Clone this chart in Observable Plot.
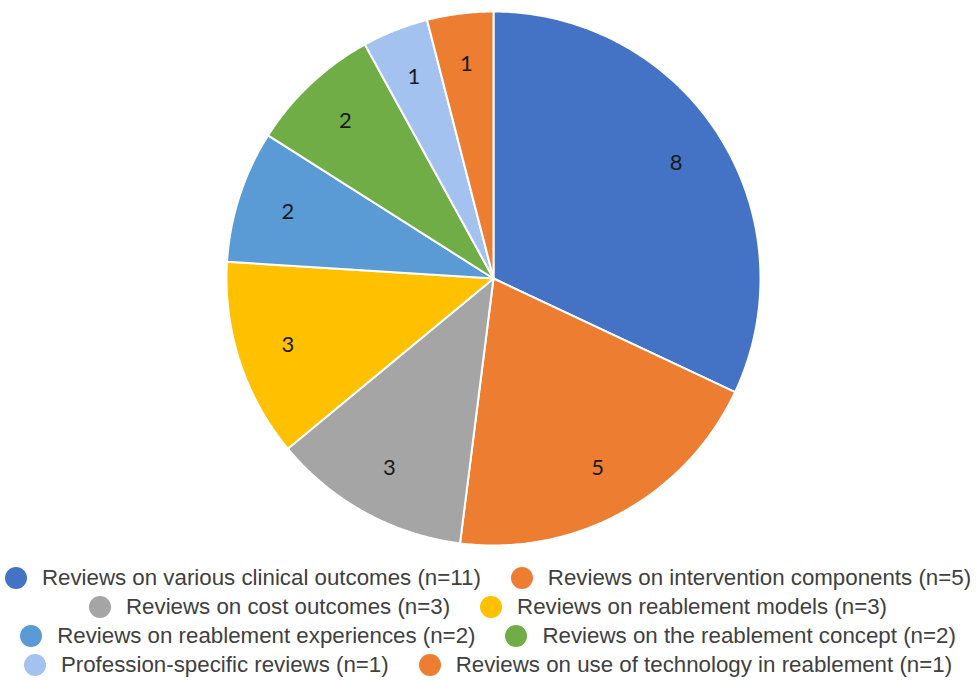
<!DOCTYPE html>
<html><head><meta charset="utf-8">
<script src="https://cdn.jsdelivr.net/npm/d3@7"></script>
<script src="https://cdn.jsdelivr.net/npm/@observablehq/plot@0.6"></script>
<style>
body{margin:0;background:#fff;}
#legend{font-family:"Liberation Sans",Arial,sans-serif;font-size:22.3px;color:#404040;padding-top:3px;}
.row{display:flex;justify-content:center;align-items:center;height:29px;white-space:nowrap;}
.item{display:flex;align-items:center;margin:0 15px;}
.sw{width:22px;height:22px;border-radius:50%;margin-right:15px;flex:none;}
</style></head><body><div id="chart"></div><div id="legend"></div>
<script>
const categories = [
  "Reviews on various clinical outcomes",
  "Reviews on intervention components",
  "Reviews on cost outcomes",
  "Reviews on reablement models",
  "Reviews on reablement experiences",
  "Reviews on the reablement concept",
  "Profession-specific reviews",
  "Reviews on use of technology in reablement"
];
const sliceValues = [8, 5, 3, 3, 2, 2, 1, 1];
const legendCounts = [11, 5, 3, 3, 2, 2, 1, 1];
const colors = ["#4472C4", "#ED7D31", "#A5A5A5", "#FFC000", "#5B9BD5", "#70AD47", "#A4C2F0", "#ED7D31"];
const legendRows = [[0, 1], [2, 3], [4, 5], [6, 7]];

const W = 976, H = 560, cx = 493, cy = 278, R = 267;
const arcs = d3.pie().sort(null).value(d => d.value)(categories.map((c, i) => ({name: c, value: sliceValues[i]})));
const poly = [];
const labels = [];
arcs.forEach(a => {
  const name = a.data.name;
  poly.push({name, x: 0, y: 0});
  const n = Math.max(2, Math.ceil((a.endAngle - a.startAngle) / (Math.PI / 360)));
  for (let k = 0; k <= n; k++) {
    const t = a.startAngle + (a.endAngle - a.startAngle) * k / n;
    poly.push({name, x: Math.sin(t), y: Math.cos(t)});
  }
  const m = (a.startAngle + a.endAngle) / 2;
  labels.push({name, x: 0.81 * Math.sin(m), y: 0.81 * Math.cos(m), text: String(a.data.value)});
});

const chart = Plot.plot({
  width: W, height: H,
  marginTop: 0, marginBottom: 0, marginLeft: 0, marginRight: 0,
  x: {domain: [-cx / R, (W - cx) / R], axis: null},
  y: {domain: [-(H - cy) / R, cy / R], axis: null},
  color: {domain: categories, range: colors},
  style: {background: "#fff"},
  marks: [
    Plot.line(poly, {x: "x", y: "y", z: "name", fill: "name", stroke: "#fff", strokeWidth: 2, curve: "linear-closed", strokeLinejoin: "round"}),
    Plot.text(labels, {x: "x", y: "y", text: "text", fontSize: 22, fill: "#1a1a1a", fontFamily: "Lato, 'Open Sans', sans-serif"})
  ]
});
document.getElementById("chart").appendChild(chart);

const legend = document.getElementById("legend");
legendRows.forEach(r => {
  const row = document.createElement("div");
  row.className = "row";
  r.forEach(i => {
    const it = document.createElement("div");
    it.className = "item";
    const sw = document.createElement("span");
    sw.className = "sw";
    sw.style.background = colors[i];
    const tx = document.createElement("span");
    tx.textContent = `${categories[i]} (n=${legendCounts[i]})`;
    it.appendChild(sw); it.appendChild(tx);
    row.appendChild(it);
  });
  legend.appendChild(row);
});
</script>
</body></html>
